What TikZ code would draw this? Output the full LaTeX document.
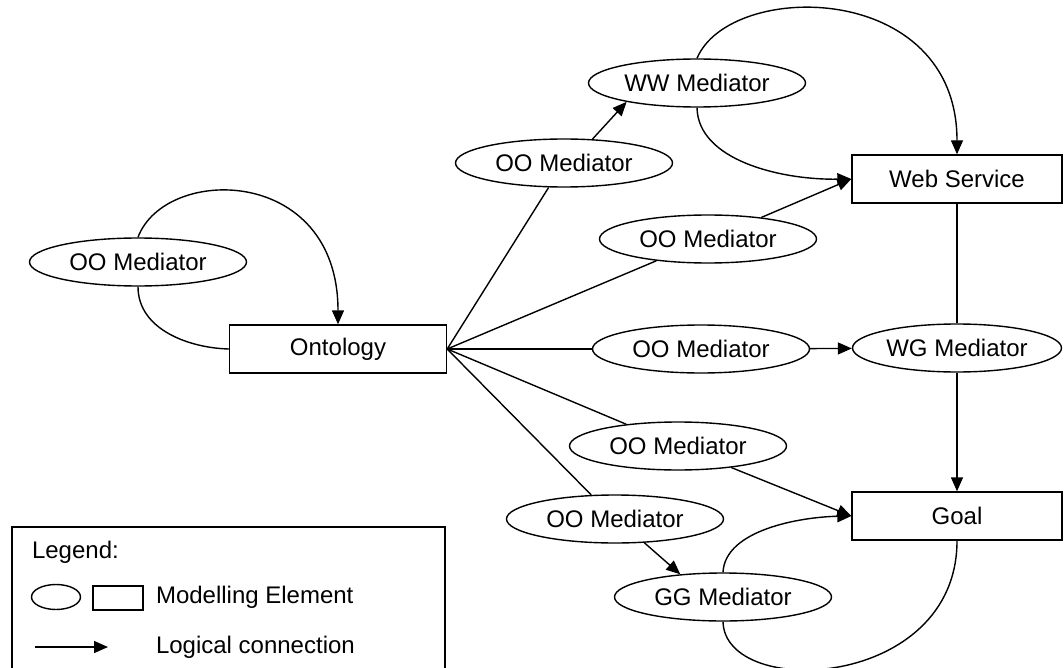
\documentclass[tikz,border=0pt]{standalone}
\usepackage{fontspec}
\setmainfont{Liberation Sans}
\usetikzlibrary{shapes.geometric,arrows.meta}
\tikzset{
  med/.style={draw,ellipse,minimum width=217pt,minimum height=48pt,inner sep=0pt},
  elem/.style={draw,rectangle,minimum width=217pt,minimum height=48pt,inner sep=0pt},
  conn/.style={-{Triangle[length=14pt,width=12pt]}},
}
\begin{document}
\begin{tikzpicture}[x=1pt,y=-1pt,line width=1.4pt,font=\fontsize{24}{28}\selectfont]
\useasboundingbox (0,0) rectangle (1064,668);
\node[elem] (Onto) at (338,349) {Ontology};
\node[med] (OO-0) at (138,262) {OO Mediator};
\node[med] (WW) at (697,83) {WW Mediator};
\node[elem,minimum width=210pt] (WS) at (957,179) {Web Service};
\node[med,minimum width=209pt] (WG) at (957,348) {WG Mediator};
\node[elem,minimum width=210pt] (Goal) at (957,516) {Goal};
\node[med] (GG) at (723,597) {GG Mediator};
\foreach \number/\x/\y in {1/564/163,2/708/239,3/701/349,4/678/446,5/615/519}{
  \node[med] (OO-\number) at (\x,\y) {OO Mediator};
  \path (Onto.east) edge (OO-\number);
}
\draw[conn] (OO-0.north) .. controls (165,165) and (338,165) .. (Onto.north);
\draw (OO-0.south) .. controls (138,330) and (190,348) .. (Onto.west);
\draw[conn] (WW.north) .. controls (730,-20) and (957,-20) .. (WS.north);
\draw[conn] (WW.south) .. controls (698,160) and (780,180) .. (WS.west);
\draw[conn] (GG.north) .. controls (725,530) and (800,517) .. (Goal.west);
\draw (GG.south) .. controls (725,700) and (957,690) .. (Goal.south);
\draw[conn] (OO-1.40) -- (WW.195);
\draw[conn] (OO-2.22) -- (WS.west);
\draw[conn] (OO-3) -- (WG);
\draw[conn] (OO-4.338) -- (Goal.west);
\draw[conn] (OO-5.321) -- (GG.152);
\draw (WS) -- (WG);
\draw[conn] (WG) -- (Goal);
\draw (12,668) -- (12,527) -- (445,527) -- (445,668);
\node[anchor=west] (L-title) at (28,552) {Legend:};
\node[draw,ellipse,minimum width=49pt,minimum height=25pt,inner sep=0pt] (L-ell) at (56,597) {};
\node[draw,minimum width=50pt,minimum height=24pt,inner sep=0pt] (L-rect) at (118,598) {};
\node[anchor=west] (L-elem) at (152,597) {Modelling Element};
\coordinate (L-a) at (35,647);
\coordinate (L-b) at (108,647);
\draw[conn] (L-a) -- (L-b);
\node[anchor=west] (L-conn) at (152,647) {Logical connection};
\end{tikzpicture}
\end{document}
